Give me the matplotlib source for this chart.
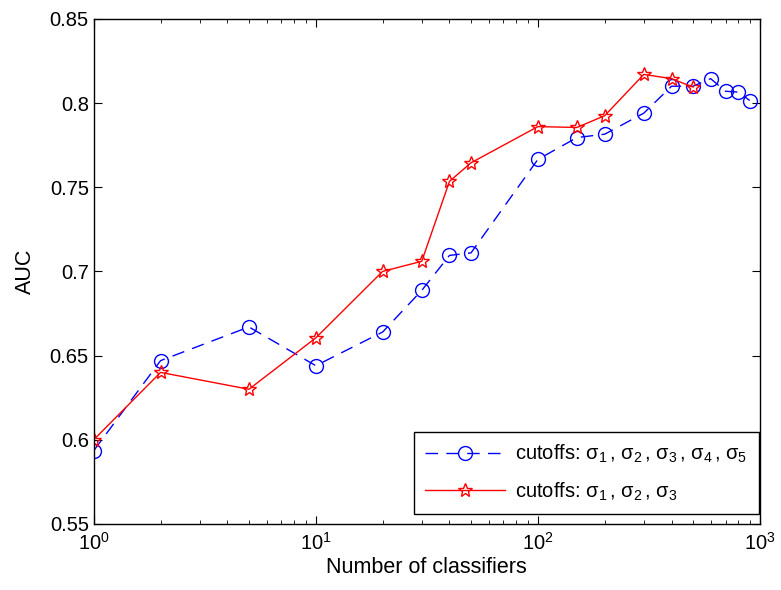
import matplotlib
matplotlib.use('Agg')
import matplotlib.pyplot as plt
from matplotlib.ticker import LogLocator, NullFormatter

plt.rcParams['font.family'] = ['Liberation Sans', 'DejaVu Sans']
plt.rcParams['mathtext.fontset'] = 'custom'
plt.rcParams['mathtext.rm'] = 'Liberation Sans'
plt.rcParams['mathtext.it'] = 'Liberation Sans'

# five cutoffs
n_blue = [1, 2, 5, 10, 20, 30, 40, 50, 100, 150, 200, 300, 400, 500, 600, 700, 800, 900]
auc_blue = [0.5935, 0.647, 0.667, 0.644, 0.664, 0.6887, 0.7095, 0.711, 0.7665,
            0.7795, 0.7815, 0.794, 0.810, 0.810, 0.8145, 0.807, 0.8065, 0.8015]

# three cutoffs
n_red = [1, 2, 5, 10, 20, 30, 40, 50, 100, 150, 200, 300, 400, 500]
auc_red = [0.600, 0.640, 0.630, 0.6605, 0.700, 0.706, 0.7535, 0.7645, 0.786,
           0.7855, 0.7925, 0.817, 0.8145, 0.8095]

lab_blue = r'cutoffs: σ$_1\,$, σ$_2\,$, σ$_3\,$, σ$_4\,$, σ$_5$'
lab_red = r'cutoffs: σ$_1\,$, σ$_2\,$, σ$_3$'

fig = plt.figure(figsize=(7.81, 5.90), dpi=100)
ax = fig.add_axes([0.120, 0.112, 0.853, 0.856])

ax.plot(n_blue, auc_blue, color='#0000ff', lw=1.0, dashes=(9, 6),
        marker='o', markersize=10, markerfacecolor='none',
        markeredgecolor='#0000ff', markeredgewidth=1.0, label=lab_blue)
ax.plot(n_red, auc_red, color='#ff0000', lw=1.0, marker='*', markersize=10,
        markerfacecolor='none', markeredgecolor='#ff0000',
        markeredgewidth=1.0, label=lab_red)

ax.set_xscale('log')
ax.set_xlim(1, 1000)
ax.set_ylim(0.55, 0.85)
ax.set_yticks([0.55, 0.6, 0.65, 0.7, 0.75, 0.8, 0.85])
ax.set_yticklabels(['0.55', '0.6', '0.65', '0.7', '0.75', '0.8', '0.85'])
ax.xaxis.set_minor_locator(LogLocator(base=10, subs=range(2, 10)))
ax.xaxis.set_minor_formatter(NullFormatter())

ax.tick_params(which='both', direction='in', top=True, right=True, labelsize=14.5)
ax.tick_params(which='major', length=6)
ax.tick_params(which='minor', length=3)
ax.tick_params(axis='x', pad=6)
for s in ax.spines.values():
    s.set_linewidth(1.0)

ax.set_xlabel('Number of classifiers', fontsize=15.5, labelpad=2)
ax.set_ylabel('AUC', fontsize=15.5, labelpad=10)

leg = ax.legend(loc='lower right', bbox_to_anchor=(0.998, 0.02), fontsize=14.5,
                fancybox=False, edgecolor='black', framealpha=1,
                borderaxespad=0.0, handlelength=4.0, handletextpad=0.5,
                borderpad=0.55, labelspacing=0.75)
leg.get_frame().set_linewidth(1.0)

fig.savefig('out.png', dpi=100)
